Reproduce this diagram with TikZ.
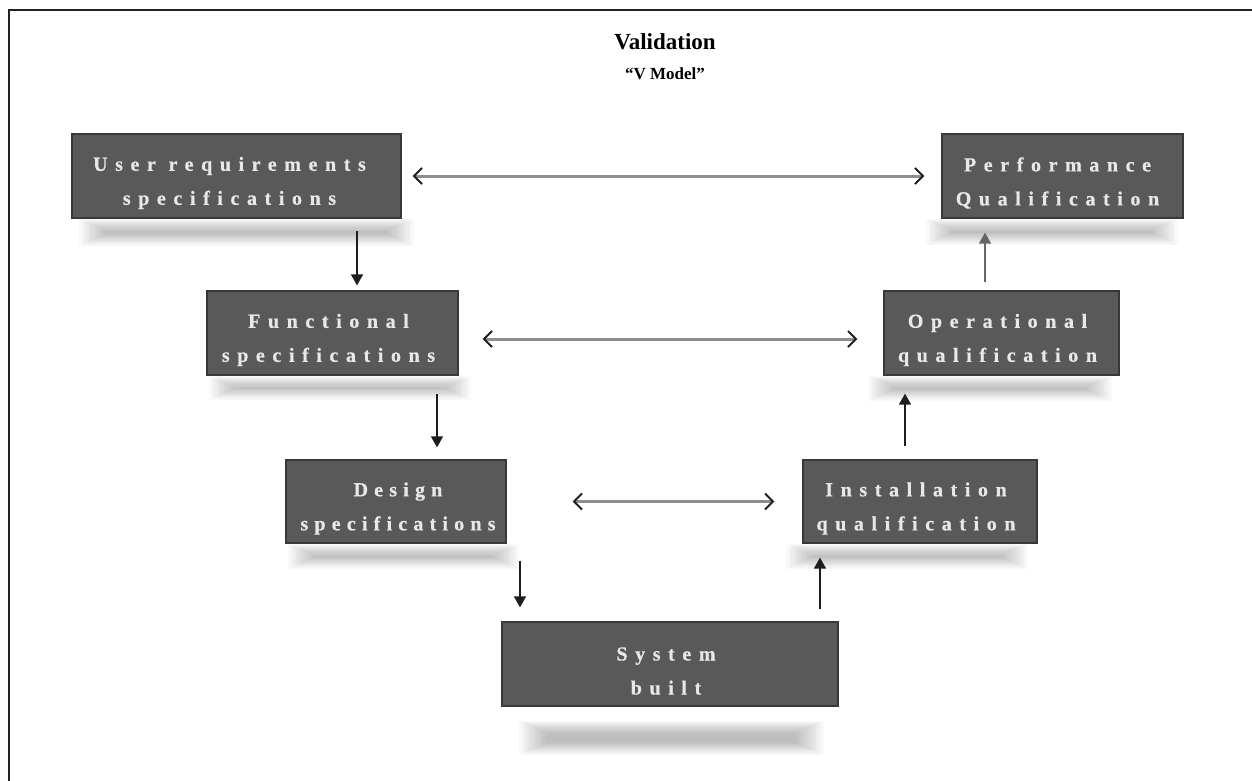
\documentclass[tikz,border=0pt]{standalone}
\usepackage{fontspec}
\setmainfont{Liberation Serif}
\newfontfamily\boxfont[LetterSpace=38,FakeBold=0.6]{Liberation Serif}
\usetikzlibrary{arrows.meta,calc,backgrounds}
\definecolor{boxfill}{HTML}{595959}
\definecolor{boxline}{HTML}{383838}
\definecolor{boxtext}{HTML}{E8E8E8}
\definecolor{arrowdark}{HTML}{1E1E1E}
\definecolor{harrowgray}{HTML}{8E8E8E}
\definecolor{framecol}{HTML}{222222}
\newcommand\shadowband[5]{%
  \foreach \k in {0,...,11}{%
    \fill[black,opacity=0.022] ($(#1.south west)+(#2+2.4*\k,#4+1.1*\k)$) rectangle ($(#1.south east)+(#3-2.4*\k,#5-1.1*\k)$);
  }}
\begin{document}
\begin{tikzpicture}[x=1pt,y=-1pt,
  vbox/.style={draw=boxline, line width=1.2pt, fill=boxfill, inner sep=0pt,
    minimum height=84pt},
  vtext/.style={text=boxtext, font=\boxfont\bfseries\fontsize{20}{23}\selectfont,
    align=center, inner sep=0pt},
  varr/.style={draw=arrowdark, line width=1.4pt, -{Triangle[length=11pt,width=12pt]}},
  harr/.style={draw=harrowgray, line width=3pt,
    {Straight Barb[length=8pt,width=16pt,line width=2pt,color=arrowdark]}-{Straight Barb[length=8pt,width=16pt,line width=2pt,color=arrowdark]}},
  titlestyle/.style={font=\bfseries\fontsize{23}{27}\selectfont, text=black},
  subtitlestyle/.style={font=\bfseries\fontsize{17}{20}\selectfont, text=black}
]
\useasboundingbox (0,0) rectangle (1252,781);
\draw[framecol, line width=1.5pt] (9,781) -- (9,10) -- (1252,10);

\node[titlestyle] (title) at (665,42) {Validation};
\node[subtitlestyle] (subtitle) at (665,74) {“V Model”};

\node[vbox, minimum width=329pt] (urs) at (236.5,176) {};
\node[vbox, minimum width=241pt] (pq) at (1062.5,176) {};
\node[vbox, minimum width=251pt] (fs) at (332.5,333) {};
\node[vbox, minimum width=235pt] (oq) at (1001.5,333) {};
\node[vbox, minimum width=220pt, minimum height=83pt] (ds) at (396,501.5) {};
\node[vbox, minimum width=234pt, minimum height=83pt] (iq) at (920,501.5) {};
\node[vbox, minimum width=336pt] (sb) at (670,664) {};

\node[vtext] (urs-t) at ([xshift=-7pt,yshift=-7pt]urs.center) {User requirements\\[11pt]specifications};
\node[vtext] (pq-t) at ([xshift=-5pt,yshift=-7pt]pq.center) {Performance\\[11pt]Qualification};
\node[vtext] (fs-t) at ([xshift=-4pt,yshift=-7pt]fs.center) {Functional\\[11pt]specifications};
\node[vtext] (oq-t) at ([xshift=-4pt,yshift=-7pt]oq.center) {Operational\\[11pt]qualification};
\node[vtext, font=\boxfont\addfontfeature{LetterSpace=31}\bfseries\fontsize{20}{23}\selectfont] (ds-t) at ([xshift=2pt,yshift=-7pt]ds.center) {Design\\[11pt]specifications};
\node[vtext] (iq-t) at ([xshift=-4pt,yshift=-7pt]iq.center) {Installation\\[11pt]qualification};
\node[vtext] (sb-t) at ([xshift=-4pt,yshift=-7pt]sb.center) {System\\[11pt]built};

\begin{scope}[on background layer]
  \shadowband{urs}{8}{12}{0}{27}
  \shadowband{fs}{3}{12}{0}{24}
  \shadowband{ds}{3}{12}{0}{25}
  \shadowband{pq}{-15}{-6}{0}{26}
  \shadowband{oq}{-15}{-8}{0}{25}
  \shadowband{iq}{-16}{-10}{0}{25}
  \shadowband{sb}{18}{-15}{14}{48}
\end{scope}

\coordinate (c1) at (357,0);
\coordinate (c2) at (437,0);
\coordinate (c3) at (520,0);
\coordinate (c4) at (820,0);
\coordinate (c5) at (905,0);
\coordinate (c6) at (985,0);

\draw[varr, shorten <=12pt, shorten >=5pt] (urs.south -| c1) -- (fs.north -| c1);
\draw[varr, shorten <=18pt, shorten >=12pt] (fs.south -| c2) -- (ds.north -| c2);
\draw[varr, shorten <=17pt, shorten >=14pt] (ds.south -| c3) -- (sb.north -| c3);
\draw[varr, shorten <=12pt, shorten >=14pt] (sb.north -| c4) -- (iq.south -| c4);
\draw[varr, shorten <=13pt, shorten >=18pt] (iq.north -| c5) -- (oq.south -| c5);
\draw[varr, draw=gray!80!black, shorten <=8pt, shorten >=14pt] (oq.north -| c6) -- (pq.south -| c6);

\draw[harr, shorten <=11pt, shorten >=17pt] (urs.east) -- (pq.west);
\draw[harr, shorten <=24pt, shorten >=26pt] ([yshift=-6pt]fs.east) -- ([yshift=-6pt]oq.west);
\draw[harr, shorten <=66pt, shorten >=28pt] (ds.east) -- (iq.west);
\end{tikzpicture}
\end{document}
